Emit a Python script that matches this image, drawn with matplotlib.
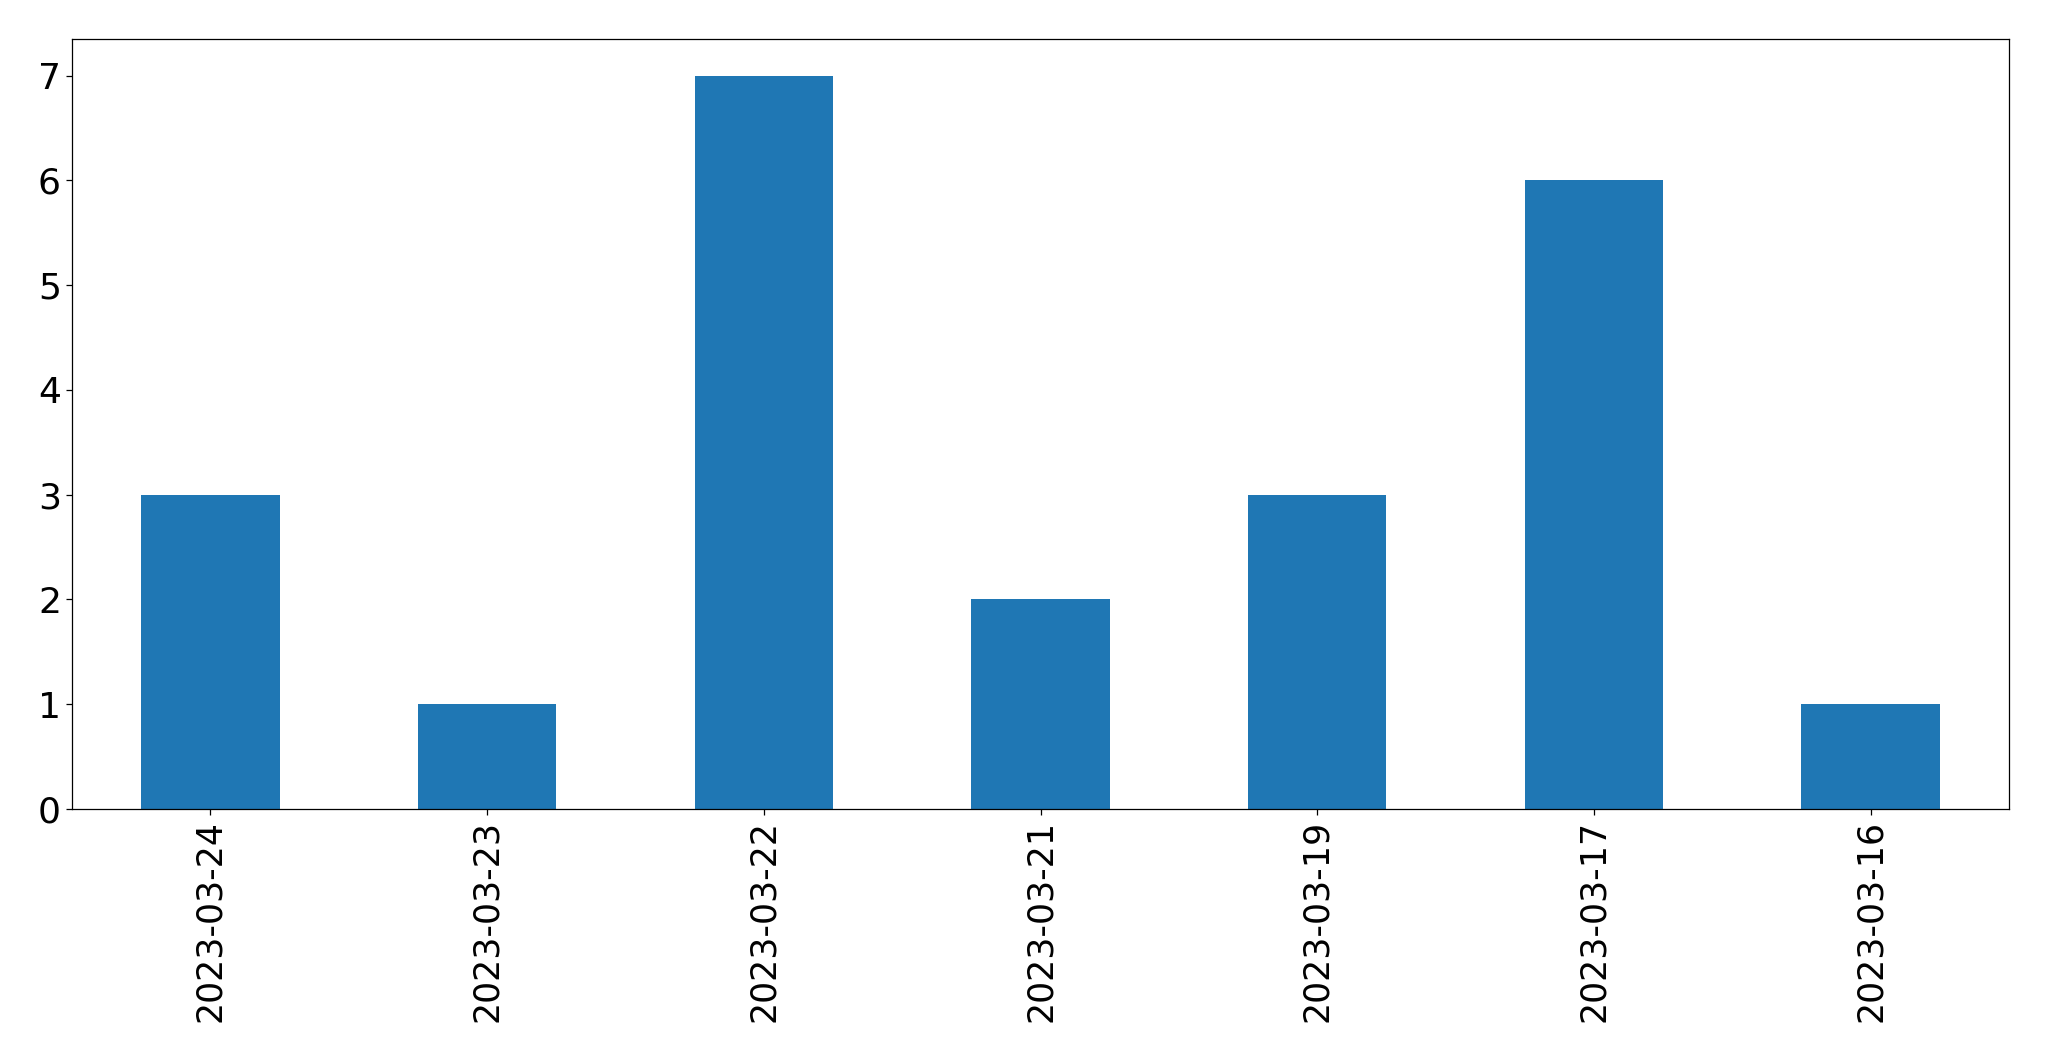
import matplotlib
matplotlib.use("Agg")
import matplotlib.pyplot as plt

dates = ["2023-03-24", "2023-03-23", "2023-03-22", "2023-03-21",
         "2023-03-19", "2023-03-17", "2023-03-16"]
counts = [3, 1, 7, 2, 3, 6, 1]

W, H = 2049, 1061
fig = plt.figure(figsize=(W / 100, H / 100), dpi=100)
ax = fig.add_axes([72 / W, 1 - 809 / H, (2009 - 72) / W, (809 - 39) / H])

x = list(range(len(dates)))
ax.bar(x, counts, width=0.5, color="#1f77b4")
ax.set_xlim(-0.5, len(dates) - 0.5)
ax.set_ylim(0, max(counts) * 1.05)
ax.set_xticks(x)
ax.set_xticklabels(dates, rotation=90)
ax.tick_params(axis="x", labelsize=25, length=4.5, width=0.9)
ax.tick_params(axis="y", labelsize=26, length=4.5, width=0.9)
for s in ax.spines.values():
    s.set_linewidth(0.9)

fig.savefig("out.png", dpi=100)
